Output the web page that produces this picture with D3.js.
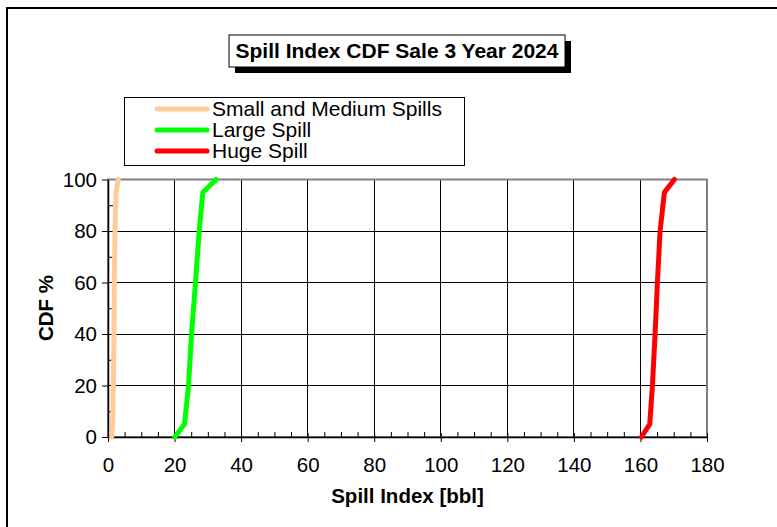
<!DOCTYPE html>
<html>
<head>
<meta charset="utf-8">
<script src="https://cdn.jsdelivr.net/npm/d3@7"></script>
<style>
  body { margin: 0; background: #fff; }
  svg { display: block; font-family: Arial, "Liberation Sans", sans-serif; }
</style>
</head>
<body>
<svg id="chart" width="777" height="527"></svg>
<script>
// data
const cdfLevels = [0, 5, 20, 40, 60, 80, 95, 100];
const smallMedium = [1.1, 1.4, 1.6, 1.8, 1.9, 2.1, 2.4, 3.1];
const largeSpill = [20.1, 23.0, 24.2, 25.1, 26.3, 27.4, 28.5, 32.5];
const hugeSpill = [160.3, 162.8, 163.6, 164.4, 165.1, 165.9, 167.2, 170.2];
const seriesNames = ["Small and Medium Spills", "Large Spill", "Huge Spill"];
const seriesColors = ["#FFCC99", "#00FF00", "#FF0000"];
const xTicks = [0, 20, 40, 60, 80, 100, 120, 140, 160, 180];
const yTicks = [0, 20, 40, 60, 80, 100];

const title = "Spill Index CDF Sale 3 Year 2024";
const xTitle = "Spill Index [bbl]";
const yTitle = "CDF %";

const svg = d3.select("#chart");

// outer frame (cut off at right / bottom like the original)
svg.append("rect")
  .attr("x", 7).attr("y", 8)
  .attr("width", 900).attr("height", 700)
  .attr("fill", "none").attr("stroke", "#000").attr("stroke-width", 2);

const plot = { left: 108, right: 707, top: 179.5, bottom: 437 };

const x = d3.scaleLinear().domain([0, 180]).range([plot.left, plot.right]);
const y = d3.scaleLinear().domain([0, 100]).range([plot.bottom, plot.top]);

// grid
const grid = svg.append("g");
grid.selectAll(".vg").data(xTicks.slice(1, -1)).join("line")
  .attr("x1", d => x(d)).attr("x2", d => x(d))
  .attr("y1", plot.top).attr("y2", plot.bottom)
  .attr("stroke", "#000").attr("stroke-width", 1)
  .attr("shape-rendering", "crispEdges");
grid.selectAll(".hg").data(yTicks.slice(1, -1)).join("line")
  .attr("x1", plot.left).attr("x2", plot.right)
  .attr("y1", d => y(d)).attr("y2", d => y(d))
  .attr("stroke", "#000").attr("stroke-width", 1)
  .attr("shape-rendering", "crispEdges");

// plot border (grey top/right)
svg.append("rect")
  .attr("x", plot.left).attr("y", plot.top)
  .attr("width", plot.right - plot.left).attr("height", plot.bottom - plot.top)
  .attr("fill", "none").attr("stroke", "#808080").attr("stroke-width", 2);

// minor ticks (inside)
const xMinor = d3.range(0, 181, 5).filter(d => d % 20 !== 0);
const yMinor = d3.range(10, 100, 20);
svg.append("g").call(d3.axisBottom(x).tickValues(xMinor).tickSize(-5).tickFormat(""))
  .attr("transform", `translate(0,${plot.bottom})`)
  .call(g => g.select(".domain").remove());
svg.append("g").call(d3.axisLeft(y).tickValues(yMinor).tickSize(-5).tickFormat(""))
  .attr("transform", `translate(${plot.left},0)`)
  .call(g => g.select(".domain").remove());

// major axes
const xAxis = svg.append("g")
  .attr("transform", `translate(0,${plot.bottom})`)
  .call(d3.axisBottom(x).tickValues(xTicks).tickSize(5).tickSizeOuter(0).tickPadding(15));
xAxis.selectAll(".tick line").attr("y1", -4);
const yAxis = svg.append("g")
  .attr("transform", `translate(${plot.left},0)`)
  .call(d3.axisLeft(y).tickValues(yTicks).tickSize(6).tickSizeOuter(0).tickPadding(5));

[xAxis, yAxis].forEach(a => {
  a.selectAll("text").attr("font-size", 20.5).attr("font-family", "Arial, 'Liberation Sans', sans-serif").attr("fill", "#000");
  a.select(".domain").attr("stroke", "#000").attr("stroke-width", 1.5);
});

// series lines
const allSeries = [smallMedium, largeSpill, hugeSpill];
const line = d3.line()
  .x(d => x(d[0])).y(d => y(d[1]));
allSeries.forEach((vals, i) => {
  svg.append("path")
    .datum(vals.map((v, j) => [v, cdfLevels[j]]))
    .attr("d", line)
    .attr("fill", "none")
    .attr("stroke", seriesColors[i])
    .attr("stroke-width", 5)
    .attr("stroke-linejoin", "round")
    .attr("stroke-linecap", "round");
});

// axis titles
svg.append("text")
  .attr("x", (plot.left + plot.right) / 2).attr("y", 503)
  .attr("text-anchor", "middle")
  .attr("font-size", 20.5).attr("font-weight", "bold")
  .text(xTitle);
svg.append("text")
  .attr("transform", "translate(53,308) rotate(-90)")
  .attr("text-anchor", "middle")
  .attr("font-size", 20.5).attr("font-weight", "bold")
  .text(yTitle);

// title box with shadow
const tb = { x: 229, y: 35, w: 336, h: 32 };
svg.append("rect")
  .attr("x", tb.x + 6).attr("y", tb.y + 6)
  .attr("width", tb.w).attr("height", tb.h)
  .attr("fill", "#000");
svg.append("rect")
  .attr("x", tb.x).attr("y", tb.y)
  .attr("width", tb.w).attr("height", tb.h)
  .attr("fill", "#fff").attr("stroke", "#000").attr("stroke-width", 1);
svg.append("text")
  .attr("x", tb.x + tb.w / 2).attr("y", tb.y + 23)
  .attr("text-anchor", "middle")
  .attr("font-size", 21).attr("font-weight", "bold")
  .text(title);

// legend
const lg = svg.append("g");
lg.append("rect")
  .attr("x", 124.5).attr("y", 97.5)
  .attr("width", 340).attr("height", 68)
  .attr("fill", "#fff").attr("stroke", "#000").attr("stroke-width", 1);
seriesNames.forEach((name, i) => {
  const yy = 109 + i * 21;
  lg.append("line")
    .attr("x1", 157).attr("x2", 207)
    .attr("y1", yy).attr("y2", yy)
    .attr("stroke", seriesColors[i]).attr("stroke-width", 5)
    .attr("stroke-linecap", "round");
  lg.append("text")
    .attr("x", 212).attr("y", yy + 7)
    .attr("font-size", 21)
    .text(name);
});
</script>
</body>
</html>
